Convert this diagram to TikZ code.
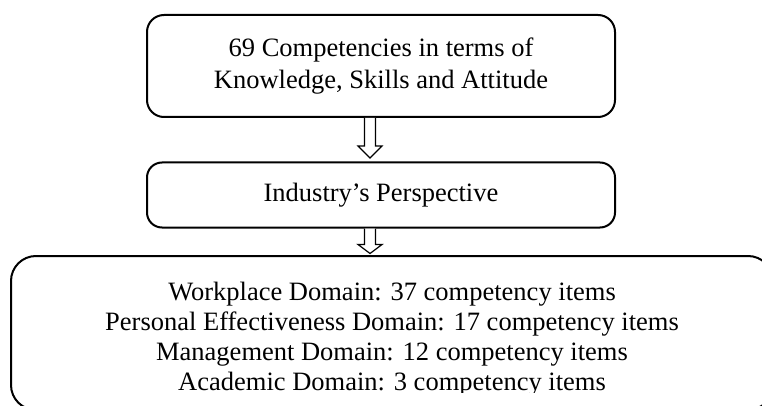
\documentclass[tikz,border=0pt]{standalone}
\usepackage{fontspec}
\setmainfont{Liberation Serif}
\usetikzlibrary{calc}

\tikzset{
  boxline/.style={draw=black, line width=2pt, rounded corners=17pt},
  stagebox/.style={boxline, minimum width=468pt, inner sep=0pt, align=center,
    font=\fontsize{26.5}{32}\selectfont},
  domainbox/.style={boxline, rounded corners=25pt, minimum width=762pt, minimum height=154pt},
  domaintext/.style={align=center, inner sep=0pt, font=\fontsize{26.5}{30}\selectfont},
  flowarrow/.style={draw=black, line width=1.2pt, fill=white, line join=miter},
}

% hollow downward block arrow: #1 start coordinate, #2 shaft length, #3 head length
\newcommand\blockarrow[3]{%
  \draw[flowarrow] ($#1+(-16.5,0)$) -- ++(0,#2) -- ++(-6.5,0) -- ++(12,#3)
    -- ++(12,-#3) -- ++(-6.5,0) -- ++(0,-#2);}

\begin{document}
\begin{tikzpicture}[x=1pt,y=-1pt]
  \useasboundingbox (0,0) rectangle (762,406);
  \clip (0,0) rectangle (762,406);

  % stages
  \node[stagebox, minimum height=102pt] (comp) at (381,66)
    {69 Competencies in terms of\\Knowledge, Skills and Attitude};
  \node[stagebox, rounded corners=15pt, minimum height=65pt] (ind) at (381,195)
    {Industry’s Perspective};
  \node[domainbox] (dom) at (392,333) {};
  % the text frame cuts the last line just below its baseline
  \begin{scope}
    \clip (0,0) rectangle (762,392);
    \node[domaintext] (domtxt) at (392,339)
      {Workplace Domain: 37 competency items\\
       Personal Effectiveness Domain: 17 competency items\\
       Management Domain: 12 competency items\\
       Academic Domain: 3 competency items};
  \end{scope}

  % connectors between the stages
  \blockarrow{(comp.south)}{28}{12}
  \blockarrow{(ind.south)}{16}{9}
\end{tikzpicture}
\end{document}
